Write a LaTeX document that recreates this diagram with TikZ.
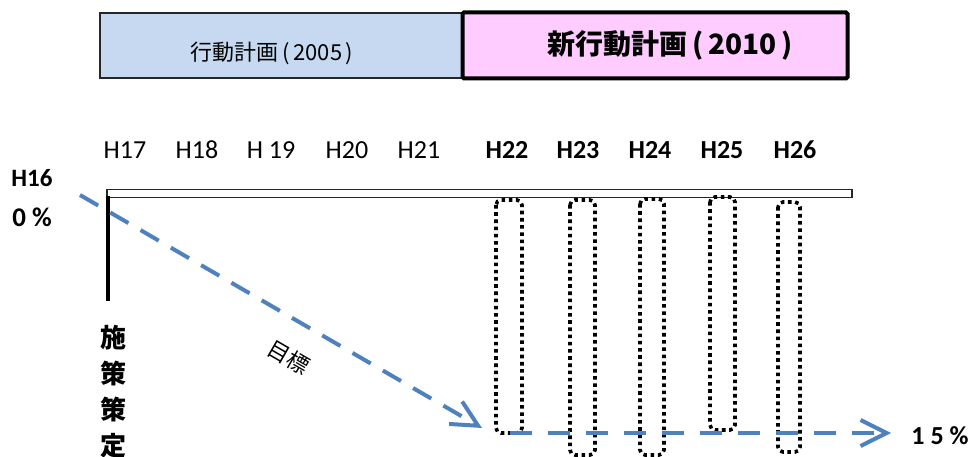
\documentclass[tikz,border=0pt]{standalone}
\usepackage{fontspec}
\setmainfont{Carlito}
\newfontfamily\jp{Noto Sans CJK JP}
\usetikzlibrary{arrows.meta}
\definecolor{planblue}{RGB}{198,217,241}
\definecolor{planpink}{RGB}{255,204,255}
\definecolor{goalblue}{RGB}{79,129,189}
\tikzset{
  yearlbl/.style={font=\fontsize{26}{28}\selectfont, anchor=center, inner sep=0pt},
  yearbold/.style={yearlbl, font=\bfseries\fontsize{26}{28}\selectfont},
  yearbox/.style={draw=black, line width=3.6pt, dash pattern=on 3.6pt off 3.6pt, rounded corners=5pt},
  goal/.style={draw=goalblue, line width=4pt, dash pattern=on 21pt off 14pt,
    -{Straight Barb[length=26pt,width=26pt,line width=4pt]}},
  pct/.style={font=\bfseries\fontsize{25}{27}\selectfont, inner sep=0pt}
}
\begin{document}
\begin{tikzpicture}[x=1pt,y=-1pt]
\useasboundingbox (0,0) rectangle (974,457);
% plan boxes
\node[draw=black!85, line width=1.3pt, fill=planblue, minimum width=363pt, minimum height=65pt, inner sep=0pt] (old) at (281.5,45.5) {};
\node[font=\jp\fontsize{22}{24}\selectfont] (oldt) at (272,53) {行動計画\,(\,2005\,)};
\node[draw=black, line width=4pt, rounded corners=1.5pt, fill=planpink, minimum width=385pt, minimum height=66pt, inner sep=0pt] (new) at (655,45.5) {};
\node[font=\jp\bfseries\fontsize{28}{30}\selectfont] (newt) at (670,45) {新行動計画\,(\,2010\,)};
% year labels
\node[yearlbl] (y17) at (125,150) {H17};
\node[yearlbl] (y18) at (197,150) {H18};
\node[yearlbl] (y19) at (271,150) {H 19};
\node[yearlbl] (y20) at (347,150) {H20};
\node[yearlbl] (y21) at (419,150) {H21};
\node[yearbold] (y22) at (507,150) {H22};
\node[yearbold] (y23) at (578,150) {H23};
\node[yearbold] (y24) at (650,150) {H24};
\node[yearbold] (y25) at (722,150) {H25};
\node[yearbold] (y26) at (795,150) {H26};
\node[pct] (h16) at (32,178) {H16};
\node[pct, font=\bfseries\fontsize{27}{28}\selectfont] (p0) at (32,217) {0 \%};
\node[pct, font=\bfseries\fontsize{26}{28}\selectfont] (p15) at (940,436) {1 5 \%};
% time bar
\node[draw=black!85, line width=1.2pt, fill=white, minimum width=745pt, minimum height=8pt, inner sep=0pt] (bar) at (479.5,193.5) {};
\coordinate (vtop) at (108,196);
\coordinate (vbot) at (108,301);
\draw[line width=4pt] (vtop) -- (vbot);
\node[font=\jp\bfseries\fontsize{26}{36}\selectfont, align=center, inner sep=0pt] (sakutei) at (113,392) {施\\策\\策\\定};
% dotted year boxes
\draw[yearbox] (496,200) rectangle (522,433);
\draw[yearbox] (570,200) rectangle (595,455);
\draw[yearbox] (640,199) rectangle (664,455);
\draw[yearbox] (710,197) rectangle (735,430);
\draw[yearbox] (778,202) rectangle (800,452);
% goal arrows
\coordinate (g0) at (80,195);
\coordinate (g1) at (482,428);
\coordinate (h0) at (510,433);
\coordinate (h1) at (891,433);
\draw[goal] (g0) -- (g1);
\draw[goal, dash pattern=on 22pt off 16pt] (h0) -- (h1);
\node[font=\jp\fontsize{22}{24}\selectfont, rotate=-30, inner sep=1pt] (mokuhyo) at (289,357) {目標};
\end{tikzpicture}
\end{document}
